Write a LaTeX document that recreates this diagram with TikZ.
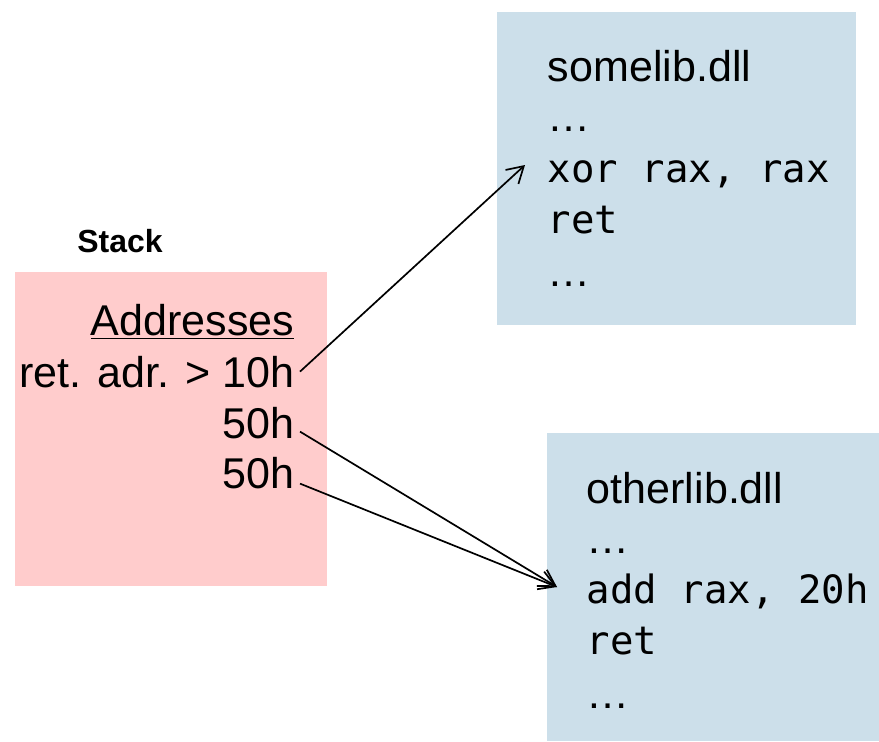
\documentclass[tikz,border=0pt]{standalone}
\usepackage{fontspec}
\setmainfont{Liberation Sans}
\setmonofont{DejaVu Sans Mono}
\usetikzlibrary{arrows.meta}
\definecolor{stackred}{RGB}{255,204,204}
\definecolor{libblue}{RGB}{204,223,234}
\tikzset{>={Straight Barb[length=3.2mm,width=3.8mm]}}
\tikzset{
  txt/.style={inner xsep=0.1cm,inner ysep=0pt,font=\fontsize{24.5}{29}\selectfont},
  code/.style={inner xsep=0.1cm,inner ysep=0pt,font=\fontsize{22.2}{27}\selectfont\ttfamily},
}

\begin{document}
\begin{tikzpicture}[x=0.02cm,y=-0.02cm,line width=0.034cm]
            \useasboundingbox (0,0) rectangle (879,741);
            \fill[stackred] (15,272) rectangle (327,586);
            \fill[libblue] (497,12) rectangle (856,325);
            \fill[libblue] (547,433) rectangle (879,741);
            \node[anchor=base,font=\fontsize{18.2}{22}\selectfont\bfseries] (stack) at (120,252) {Stack};
            \node[txt,anchor=base east] (addr) at (300,335) {\underline{Addresses}};
            \node[txt,anchor=base east] (ret) at (300,387) {ret. adr. > 10h};
            \node[txt,anchor=base east] (fifty1) at (300,438) {50h};
            \node[txt,anchor=base east] (fifty2) at (300,488) {50h};
            \node[txt,anchor=base west] (somelib) at (542,81) {somelib.dll};
            \node[txt,anchor=base west] (somedots1) at (542,131) {…};
            \node[code,anchor=base west] (xor) at (542,182) {xor rax, rax};
            \node[code,anchor=base west] (someret) at (542,233) {ret};
            \node[txt,anchor=base west] (somedots2) at (542,286) {…};
            \node[txt,anchor=base west] (otherlib) at (581,503) {otherlib.dll};
            \node[txt,anchor=base west] (otherdots1) at (581,553) {…};
            \node[code,anchor=base west] (add) at (581,603) {add rax, 20h};
            \node[code,anchor=base west] (otherret) at (581,654) {ret};
            \node[txt,anchor=base west] (otherdots2) at (581,708) {…};
            \coordinate (xorin) at (525,165);
            \coordinate (addin) at (557,587);
            \draw[->] (ret.east) -- (xorin);
            \draw[->] ([yshift=-0.18cm]fifty1.east) -- (addin);
            \draw[->] ([yshift=-0.22cm]fifty2.east) -- (addin);
        \end{tikzpicture}
\end{document}
